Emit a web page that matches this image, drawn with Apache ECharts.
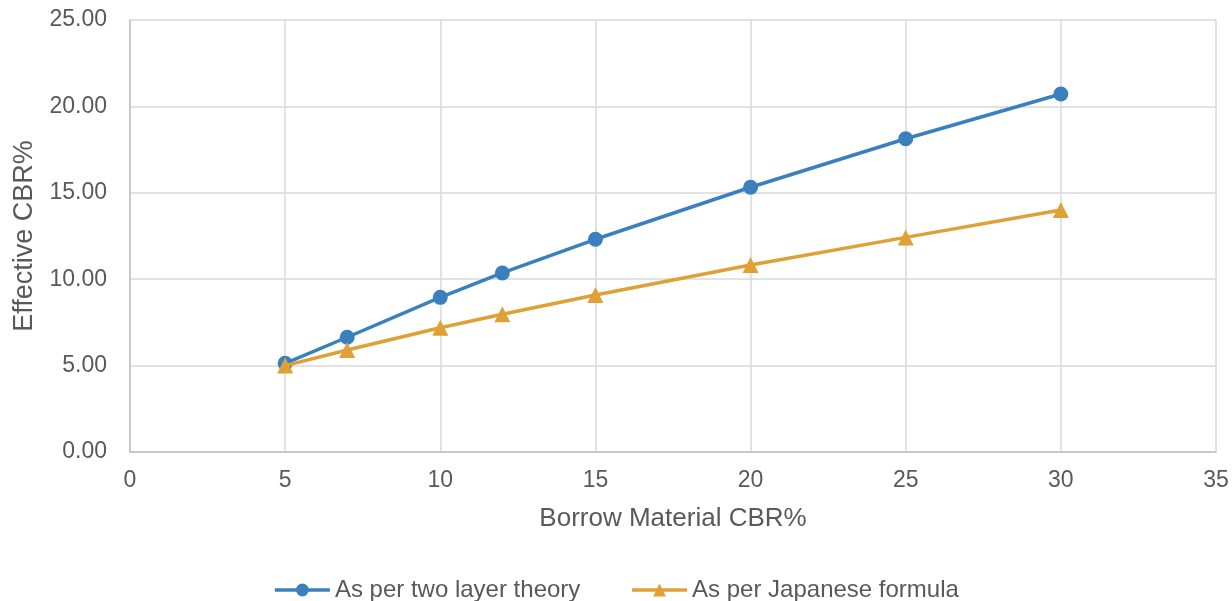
<!DOCTYPE html>
<html>
<head>
<meta charset="utf-8">
<script src="https://cdn.jsdelivr.net/npm/echarts@6/dist/echarts.min.js"></script>
<style>
  html, body { margin: 0; padding: 0; background: #fff; }
  #chart { width: 1232px; height: 601px; }
</style>
</head>
<body>
<div id="chart"></div>
<script>
// Borrow material CBR% (x) against effective CBR% (y)
const borrowCBR = [5, 7, 10, 12, 15, 20, 25, 30];
const twoLayerTheory = [5.13, 6.64, 8.95, 10.36, 12.31, 15.32, 18.13, 20.72];
const japaneseFormula = [5.00, 5.90, 7.19, 7.97, 9.09, 10.82, 12.42, 14.00];
const seriesNames = ['As per two layer theory', 'As per Japanese formula'];

const textColor = '#595959';
const fontFamily = 'Liberation Sans, Arial, sans-serif';

const chart = echarts.init(document.getElementById('chart'));
chart.setOption({
  animation: false,
  textStyle: { fontFamily: fontFamily },
  grid: { left: 130, right: 16, top: 20, bottom: 149, containLabel: false },
  legend: {
    top: 573,
    left: 'center',
    itemWidth: 55,
    itemHeight: 16,
    itemGap: 50,
    lineStyle: { width: 3.5 },
    textStyle: { color: textColor, fontSize: 24, fontFamily: fontFamily },
    data: seriesNames
  },
  xAxis: {
    type: 'value',
    min: 0, max: 35, interval: 5,
    name: 'Borrow Material CBR%',
    nameLocation: 'middle',
    nameGap: 54,
    nameTextStyle: { color: textColor, fontSize: 26 },
    axisLine: { show: true, lineStyle: { color: '#bfbfbf', width: 1.5 } },
    axisTick: { show: false },
    axisLabel: { color: textColor, fontSize: 23, margin: 17 },
    splitLine: { show: true, lineStyle: { color: '#d9d9d9', width: 1.5 } }
  },
  yAxis: {
    type: 'value',
    min: 0, max: 25, interval: 5,
    name: 'Effective CBR%',
    nameLocation: 'middle',
    nameGap: 90,
    nameTextStyle: { color: textColor, fontSize: 27 },
    axisLine: { show: true, lineStyle: { color: '#bfbfbf', width: 1.5 } },
    axisTick: { show: false },
    axisLabel: {
      color: textColor, fontSize: 23, margin: 23,
      formatter: v => v.toFixed(2)
    },
    splitLine: { show: true, lineStyle: { color: '#d9d9d9', width: 1.5 } }
  },
  series: [
    {
      name: seriesNames[0],
      type: 'line',
      data: borrowCBR.map((x, i) => [x, twoLayerTheory[i]]),
      symbol: 'circle',
      symbolSize: 15,
      color: '#3a80bf',
      lineStyle: { width: 3.5, color: '#3a80bf' },
      itemStyle: { color: '#3a80bf' },
      z: 3
    },
    {
      name: seriesNames[1],
      type: 'line',
      data: borrowCBR.map((x, i) => [x, japaneseFormula[i]]),
      symbol: 'triangle',
      symbolSize: 16,
      color: '#dfa035',
      lineStyle: { width: 3.5, color: '#dfa035' },
      itemStyle: { color: '#dfa035' },
      z: 4
    }
  ]
});
</script>
</body>
</html>
